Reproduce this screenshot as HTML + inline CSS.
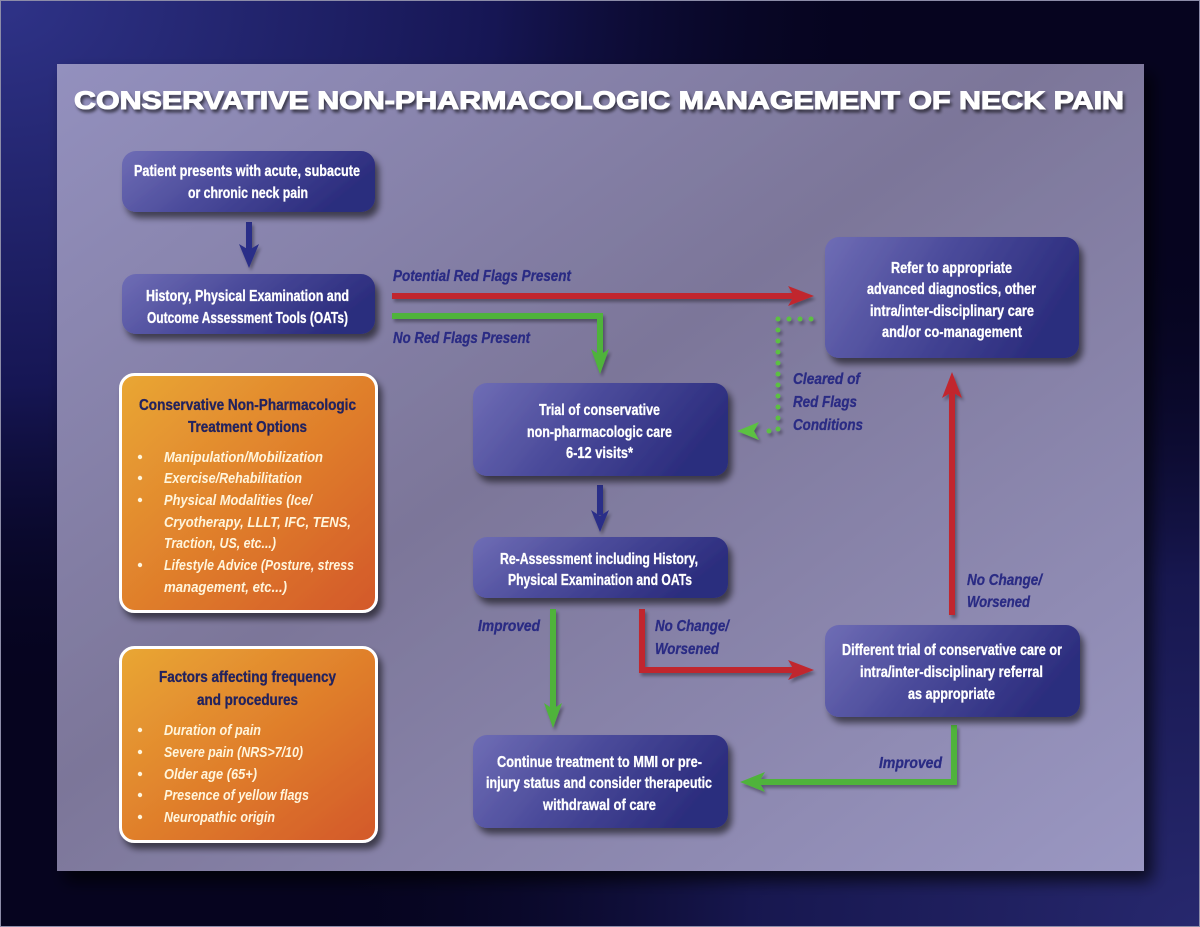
<!DOCTYPE html>
<html><head><meta charset="utf-8">
<style>
html,body{margin:0;padding:0;background:#06041f;}
svg{display:block;}
text{font-family:"Liberation Sans",Arial,sans-serif;}
</style></head>
<body>
<svg width="1200" height="927" viewBox="0 0 1200 927" xmlns="http://www.w3.org/2000/svg">
<defs>
  <radialGradient id="bgTL" cx="0" cy="0" r="1" gradientUnits="userSpaceOnUse" gradientTransform="translate(0 0) scale(900 700)">
    <stop offset="0" stop-color="#2f3388"/>
    <stop offset="0.55" stop-color="#161654"/>
    <stop offset="1" stop-color="#06041f" stop-opacity="0"/>
  </radialGradient>
  <radialGradient id="bgBR" cx="0" cy="0" r="1" gradientUnits="userSpaceOnUse" gradientTransform="translate(1200 927) scale(900 700)">
    <stop offset="0" stop-color="#27286e"/>
    <stop offset="0.5" stop-color="#17174f"/>
    <stop offset="1" stop-color="#06041f" stop-opacity="0"/>
  </radialGradient>
  <linearGradient id="panel" x1="0" y1="0" x2="1" y2="1">
    <stop offset="0" stop-color="#9390be"/>
    <stop offset="0.45" stop-color="#7c7699"/>
    <stop offset="1" stop-color="#9a97c2"/>
  </linearGradient>
  <linearGradient id="blue" x1="0" y1="0" x2="1" y2="0.3">
    <stop offset="0" stop-color="#6f6db5"/>
    <stop offset="0.5" stop-color="#4a4a9a"/>
    <stop offset="1" stop-color="#2c2d7e"/>
  </linearGradient>
  <linearGradient id="orange" x1="0" y1="0" x2="1" y2="1">
    <stop offset="0" stop-color="#e9a734"/>
    <stop offset="0.5" stop-color="#e0802c"/>
    <stop offset="1" stop-color="#d3582a"/>
  </linearGradient>
  <filter id="sh" x="-20%" y="-20%" width="140%" height="150%">
    <feGaussianBlur in="SourceAlpha" stdDeviation="3.5"/>
    <feOffset dx="4" dy="6" result="b"/>
    <feComponentTransfer><feFuncA type="linear" slope="0.55"/></feComponentTransfer>
    <feMerge><feMergeNode/><feMergeNode in="SourceGraphic"/></feMerge>
  </filter>
  <filter id="lsh" x="-10%" y="-50%" width="120%" height="200%">
    <feGaussianBlur in="SourceAlpha" stdDeviation="1.5"/>
    <feOffset dx="2" dy="3" result="b"/>
    <feComponentTransfer><feFuncA type="linear" slope="0.35"/></feComponentTransfer>
    <feMerge><feMergeNode/><feMergeNode in="SourceGraphic"/></feMerge>
  </filter>
  <filter id="tsh" x="-5%" y="-50%" width="110%" height="200%">
    <feGaussianBlur in="SourceAlpha" stdDeviation="1.5"/>
    <feOffset dx="2" dy="3" result="b"/>
    <feComponentTransfer><feFuncA type="linear" slope="0.6"/></feComponentTransfer>
    <feMerge><feMergeNode/><feMergeNode in="SourceGraphic"/></feMerge>
  </filter>
  <filter id="psh" x="-5%" y="-5%" width="115%" height="115%">
    <feGaussianBlur in="SourceAlpha" stdDeviation="8"/>
    <feOffset dx="8" dy="10" result="b"/>
    <feComponentTransfer><feFuncA type="linear" slope="0.7"/></feComponentTransfer>
    <feMerge><feMergeNode/><feMergeNode in="SourceGraphic"/></feMerge>
  </filter>
</defs>

<!-- background -->
<rect x="0" y="0" width="1200" height="927" fill="#06041f"/>
<rect x="0" y="0" width="1200" height="927" fill="url(#bgTL)"/>
<rect x="0" y="0" width="1200" height="927" fill="url(#bgBR)"/>
<rect x="0.5" y="0.5" width="1199" height="926" fill="none" stroke="#8c8ca8" stroke-width="1"/>

<!-- panel -->
<rect x="57" y="64" width="1087" height="807" fill="url(#panel)" filter="url(#psh)"/>

<!-- title -->
<text x="74" y="109" font-size="25" font-weight="bold" fill="#ffffff" stroke="#ffffff" stroke-width="1" textLength="1050" lengthAdjust="spacingAndGlyphs" filter="url(#tsh)">CONSERVATIVE NON-PHARMACOLOGIC MANAGEMENT OF NECK PAIN</text>

<!-- connectors -->
<g filter="url(#lsh)">
  <!-- dark blue arrows -->
  <line x1="249" y1="222" x2="249" y2="252" stroke="#2b2f88" stroke-width="6"/>
  <polygon points="249,268 239,244 249,250 259,244" fill="#2b2f88"/>
  <line x1="600" y1="485" x2="600" y2="515" stroke="#2b2f88" stroke-width="6"/>
  <polygon points="600,532 591,510 600,516 609,510" fill="#2b2f88"/>

  <!-- red potential red flags -->
  <line x1="392" y1="296" x2="796" y2="296" stroke="#c1272d" stroke-width="6"/>
  <polygon points="814,296 788,286 794,296 788,306" fill="#c1272d"/>

  <!-- green no red flags -->
  <polyline points="392,316 600,316 600,356" fill="none" stroke="#4fb33b" stroke-width="6"/>
  <polygon points="600,374 591,349 600,355 609,349" fill="#4fb33b"/>

  <!-- dotted cleared -->
  <polyline points="811,319 778,319 778,431 765,431" fill="none" stroke="#5cc043" stroke-width="5" stroke-linecap="round" stroke-dasharray="0 11"/>
  <polygon points="737,431 759,422 754,431 759,440" fill="#5cc043"/>

  <!-- improved left -->
  <line x1="553" y1="609" x2="553" y2="710" stroke="#4fb33b" stroke-width="6"/>
  <polygon points="553,728 544,703 553,709 562,703" fill="#4fb33b"/>

  <!-- red no change -->
  <polyline points="642,609 642,670 796,670" fill="none" stroke="#c1272d" stroke-width="6"/>
  <polygon points="814,670 788,660 794,670 788,680" fill="#c1272d"/>

  <!-- red up -->
  <line x1="952" y1="615" x2="952" y2="390" stroke="#c1272d" stroke-width="6"/>
  <polygon points="952,372 942,398 952,392 962,398" fill="#c1272d"/>

  <!-- green improved right -->
  <polyline points="954,725 954,782 758,782" fill="none" stroke="#4fb33b" stroke-width="6"/>
  <polygon points="740,782 765,772 759,782 765,792" fill="#4fb33b"/>
</g>

<!-- blue boxes -->
<g filter="url(#sh)">
  <rect x="122" y="151" width="253" height="61" rx="14" fill="url(#blue)"/>
  <rect x="122" y="274" width="253" height="60" rx="14" fill="url(#blue)"/>
  <rect x="825" y="237" width="254" height="121" rx="14" fill="url(#blue)"/>
  <rect x="473" y="383" width="255" height="93" rx="14" fill="url(#blue)"/>
  <rect x="473" y="537" width="255" height="61" rx="14" fill="url(#blue)"/>
  <rect x="473" y="735" width="255" height="93" rx="14" fill="url(#blue)"/>
  <rect x="825" y="625" width="255" height="92" rx="14" fill="url(#blue)"/>
</g>

<!-- orange boxes -->
<g filter="url(#sh)">
  <rect x="120.5" y="374.5" width="256" height="237" rx="14" fill="url(#orange)" stroke="#ffffff" stroke-width="3"/>
  <rect x="120.5" y="647.5" width="256" height="194" rx="14" fill="url(#orange)" stroke="#ffffff" stroke-width="3"/>
</g>

<!-- blue box text -->
<g font-size="16" font-weight="bold" fill="#ffffff" stroke="#ffffff" stroke-width="0.3">
  <text x="134" y="176" textLength="226" lengthAdjust="spacingAndGlyphs">Patient presents with acute, subacute</text>
  <text x="188" y="198" textLength="120" lengthAdjust="spacingAndGlyphs">or chronic neck pain</text>

  <text x="146" y="301" textLength="203" lengthAdjust="spacingAndGlyphs">History, Physical Examination and</text>
  <text x="147" y="323" textLength="201" lengthAdjust="spacingAndGlyphs">Outcome Assessment Tools (OATs)</text>

  <text x="891" y="273" textLength="121" lengthAdjust="spacingAndGlyphs">Refer to appropriate</text>
  <text x="867" y="294" textLength="169" lengthAdjust="spacingAndGlyphs">advanced diagnostics, other</text>
  <text x="870" y="316" textLength="164" lengthAdjust="spacingAndGlyphs">intra/inter-disciplinary care</text>
  <text x="882" y="337" textLength="140" lengthAdjust="spacingAndGlyphs">and/or co-management</text>

  <text x="539" y="415" textLength="121" lengthAdjust="spacingAndGlyphs">Trial of conservative</text>
  <text x="527" y="437" textLength="145" lengthAdjust="spacingAndGlyphs">non-pharmacologic care</text>
  <text x="566" y="458" textLength="67" lengthAdjust="spacingAndGlyphs">6-12 visits*</text>

  <text x="500" y="564" textLength="198" lengthAdjust="spacingAndGlyphs">Re-Assessment including History,</text>
  <text x="508" y="585" textLength="184" lengthAdjust="spacingAndGlyphs">Physical Examination and OATs</text>

  <text x="497" y="767" textLength="205" lengthAdjust="spacingAndGlyphs">Continue treatment to MMI or pre-</text>
  <text x="486" y="788" textLength="226" lengthAdjust="spacingAndGlyphs">injury status and consider therapeutic</text>
  <text x="543" y="810" textLength="113" lengthAdjust="spacingAndGlyphs">withdrawal of care</text>

  <text x="842" y="655" textLength="220" lengthAdjust="spacingAndGlyphs">Different trial of conservative care or</text>
  <text x="860" y="677" textLength="183" lengthAdjust="spacingAndGlyphs">intra/inter-disciplinary referral</text>
  <text x="908" y="699" textLength="87" lengthAdjust="spacingAndGlyphs">as appropriate</text>
</g>

<!-- connector labels -->
<g font-size="16" font-weight="bold" font-style="italic" fill="#2a2b84" stroke="#2a2b84" stroke-width="0.3">
  <text x="393" y="281" textLength="178" lengthAdjust="spacingAndGlyphs">Potential Red Flags Present</text>
  <text x="393" y="343" textLength="137" lengthAdjust="spacingAndGlyphs">No Red Flags Present</text>
  <text x="793" y="384" textLength="67" lengthAdjust="spacingAndGlyphs">Cleared of</text>
  <text x="793" y="407" textLength="64" lengthAdjust="spacingAndGlyphs">Red Flags</text>
  <text x="793" y="430" textLength="70" lengthAdjust="spacingAndGlyphs">Conditions</text>
  <text x="478" y="631" textLength="62" lengthAdjust="spacingAndGlyphs">Improved</text>
  <text x="655" y="631" textLength="74" lengthAdjust="spacingAndGlyphs">No Change/</text>
  <text x="655" y="654" textLength="64" lengthAdjust="spacingAndGlyphs">Worsened</text>
  <text x="967" y="585" textLength="75" lengthAdjust="spacingAndGlyphs">No Change/</text>
  <text x="967" y="607" textLength="63" lengthAdjust="spacingAndGlyphs">Worsened</text>
  <text x="879" y="768" textLength="63" lengthAdjust="spacingAndGlyphs">Improved</text>
</g>

<!-- orange box text -->
<g font-size="16" font-weight="bold" fill="#22225e" stroke="#22225e" stroke-width="0.3">
  <text x="139" y="410" textLength="217" lengthAdjust="spacingAndGlyphs">Conservative Non-Pharmacologic</text>
  <text x="188" y="432" textLength="119" lengthAdjust="spacingAndGlyphs">Treatment Options</text>
  <text x="159" y="682" textLength="177" lengthAdjust="spacingAndGlyphs">Factors affecting frequency</text>
  <text x="197" y="705" textLength="101" lengthAdjust="spacingAndGlyphs">and procedures</text>
</g>
<g font-size="15" font-weight="bold" font-style="italic" fill="#fff5dc">
  <text x="164" y="462" textLength="159" lengthAdjust="spacingAndGlyphs">Manipulation/Mobilization</text>
  <text x="164" y="483" textLength="138" lengthAdjust="spacingAndGlyphs">Exercise/Rehabilitation</text>
  <text x="164" y="505" textLength="148" lengthAdjust="spacingAndGlyphs">Physical Modalities (Ice/</text>
  <text x="164" y="527" textLength="187" lengthAdjust="spacingAndGlyphs">Cryotherapy, LLLT, IFC, TENS,</text>
  <text x="164" y="548" textLength="112" lengthAdjust="spacingAndGlyphs">Traction, US, etc...)</text>
  <text x="164" y="570" textLength="190" lengthAdjust="spacingAndGlyphs">Lifestyle Advice (Posture, stress</text>
  <text x="164" y="592" textLength="123" lengthAdjust="spacingAndGlyphs">management, etc...)</text>

  <text x="164" y="735" textLength="97" lengthAdjust="spacingAndGlyphs">Duration of pain</text>
  <text x="164" y="757" textLength="139" lengthAdjust="spacingAndGlyphs">Severe pain (NRS&gt;7/10)</text>
  <text x="164" y="779" textLength="93" lengthAdjust="spacingAndGlyphs">Older age (65+)</text>
  <text x="164" y="800" textLength="145" lengthAdjust="spacingAndGlyphs">Presence of yellow flags</text>
  <text x="164" y="822" textLength="111" lengthAdjust="spacingAndGlyphs">Neuropathic origin</text>
</g>
<g fill="#fff5dc">
  <circle cx="140" cy="457" r="2.2"/>
  <circle cx="140" cy="478" r="2.2"/>
  <circle cx="140" cy="500" r="2.2"/>
  <circle cx="140" cy="565" r="2.2"/>
  <circle cx="140" cy="730" r="2.2"/>
  <circle cx="140" cy="752" r="2.2"/>
  <circle cx="140" cy="774" r="2.2"/>
  <circle cx="140" cy="795" r="2.2"/>
  <circle cx="140" cy="817" r="2.2"/>
</g>
</svg>
</body></html>
